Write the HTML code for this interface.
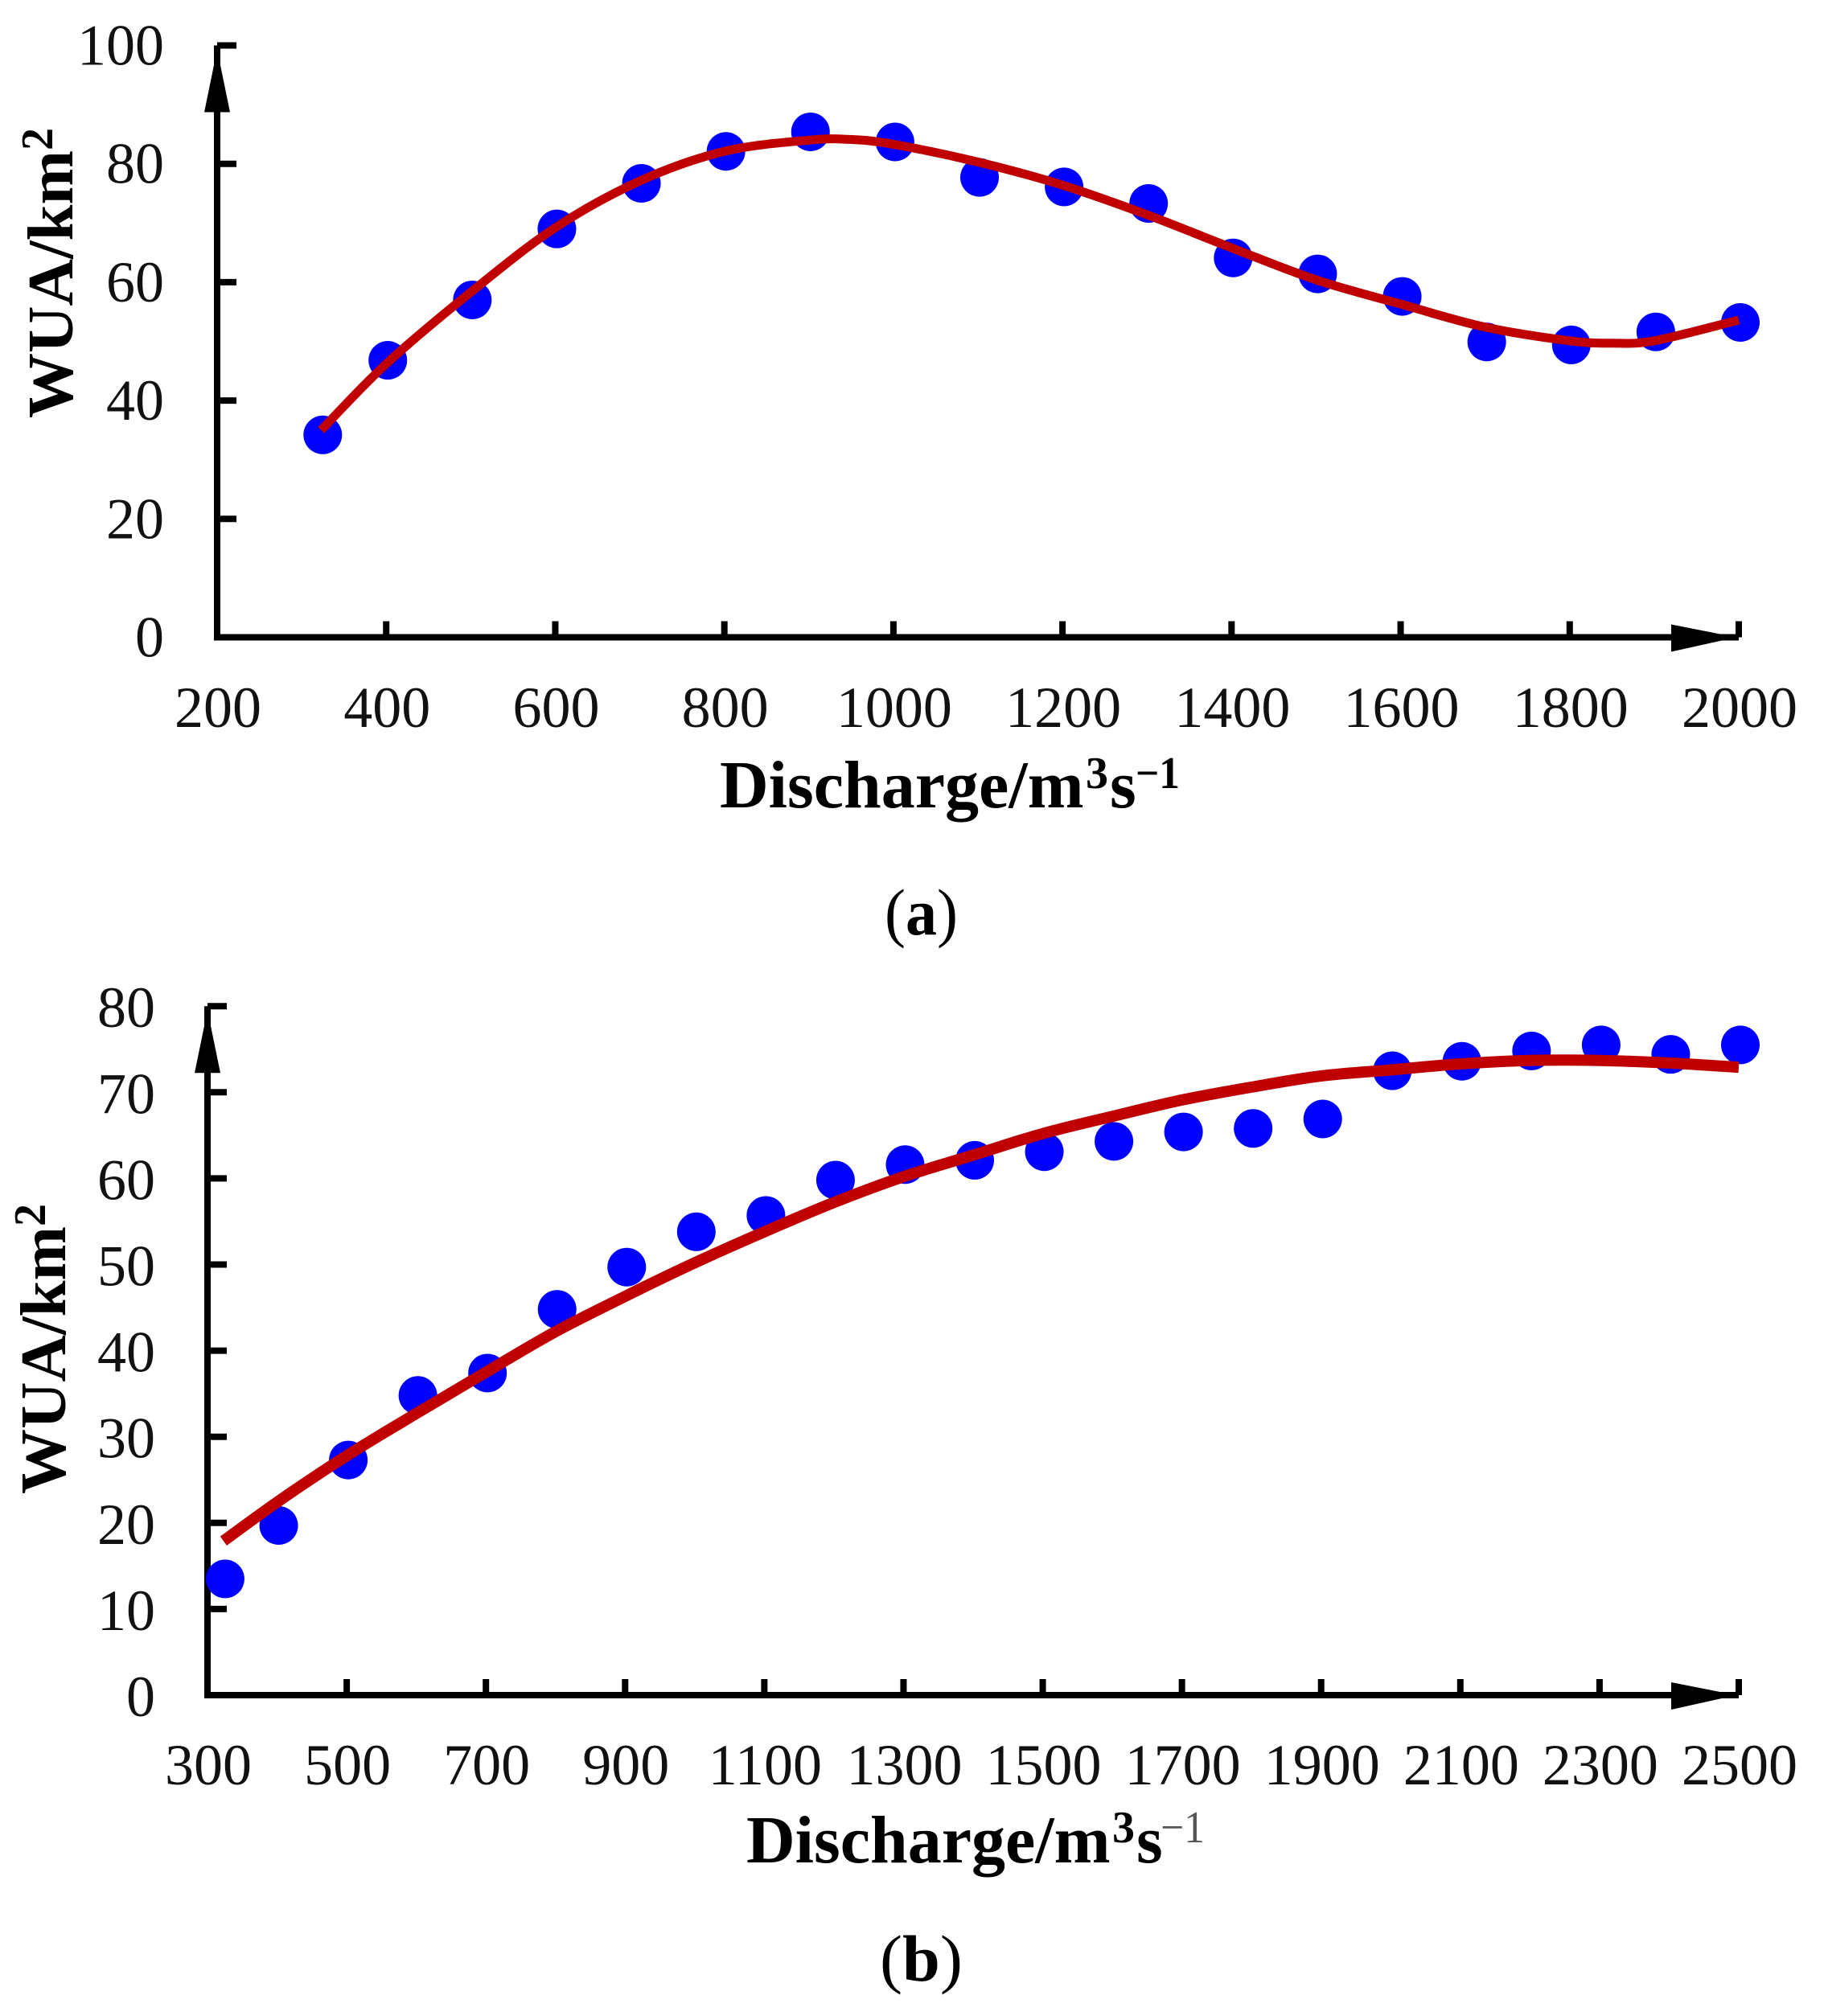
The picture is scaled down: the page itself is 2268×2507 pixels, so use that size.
<!DOCTYPE html>
<html lang="en">
<head>
<meta charset="utf-8">
<title>WUA versus discharge</title>
<style>
html,body{margin:0;padding:0;background:#fff;width:2268px;height:2507px;overflow:hidden}
svg{display:block}
text{font-family:"Liberation Serif",serif;fill:#000}
.tick{font-size:72px;fill:#111}
.title{font-size:84px;font-weight:bold}
.sup{font-size:56px;font-weight:bold}
.cap{font-size:82px}
</style>
</head>
<body>
<svg id="chart" xmlns="http://www.w3.org/2000/svg" width="2268" height="2507" viewBox="0 0 2268 2507">
  <rect x="0" y="0" width="2268" height="2507" fill="#ffffff"/>

  <g id="panel-a"></g>
  <g id="panel-b"></g>

  <text class="title" style="font-size:81px" transform="translate(90 520) rotate(-90)">WUA/km<tspan class="sup" dy="-25">2</tspan></text>
  <text class="title" x="895" y="1004">Discharge/m</text>
  <text class="sup" x="1350" y="980">3</text>
  <text class="title" x="1380" y="1004">s</text>
  <text class="sup" x="1412" y="980" textLength="55" lengthAdjust="spacingAndGlyphs">−1</text>
  <text class="cap" x="1100" y="1162" textLength="91" lengthAdjust="spacingAndGlyphs">(<tspan font-weight="bold">a</tspan>)</text>

  <text class="title" style="font-size:81px" transform="translate(81 1858) rotate(-90)">WUA/km<tspan class="sup" dy="-25">2</tspan></text>
  <text class="title" x="928" y="2316">Discharge/m</text>
  <text class="sup" x="1383" y="2291">3</text>
  <text class="title" x="1413" y="2316">s</text>
  <text class="sup" style="fill:#555;font-weight:normal" x="1443" y="2291" textLength="55" lengthAdjust="spacingAndGlyphs">−1</text>
  <text class="cap" x="1094" y="2463" textLength="103" lengthAdjust="spacingAndGlyphs">(<tspan font-weight="bold">b</tspan>)</text>
</svg>

<script>
// Panel (a) data
const aCategories = [323,400,500,600,700,800,900,1000,1100,1200,1300,1400,1500,1600,1700,1800,1900,2000];
const aObserved = [34.2,46.8,57.0,69.0,76.7,82.1,85.4,83.7,77.7,76.1,73.3,64.1,61.4,57.6,49.9,49.4,51.6,53.2];
const aFitX = [323,400,500,600,700,800,900,950,1000,1100,1200,1300,1400,1500,1600,1700,1800,1850,1900,2000];
const aFitY = [35.0,46.2,58.3,69.2,77.1,82.1,84.0,84.1,83.3,80.3,76.4,71.4,65.8,60.4,56.3,52.4,50.1,49.7,50.1,53.6];
const aXTicks = [200,400,600,800,1000,1200,1400,1600,1800,2000];
const aYTicks = [0,20,40,60,80,100];

// Panel (b) data
const bCategories = [323,400,500,600,700,800,900,1000,1100,1200,1300,1400,1500,1600,1700,1800,1900,2000,2100,2200,2300,2400,2500];
const bObserved = [13.5,19.7,27.3,34.8,37.4,44.8,49.7,53.8,55.7,59.8,61.6,62.1,63.1,64.3,65.4,65.8,66.9,72.5,73.6,74.8,75.5,74.4,75.5];
const bFitX = [323,400,500,600,700,800,900,1000,1100,1200,1300,1400,1500,1600,1700,1800,1900,2000,2100,2200,2300,2400,2500];
const bFitY = [17.9,22.4,27.8,32.7,37.5,42.2,46.3,50.2,53.8,57.2,60.2,62.7,65.2,67.2,69.1,70.6,71.9,72.6,73.3,73.7,73.7,73.4,72.9];
const bXTicks = [300,500,700,900,1100,1300,1500,1700,1900,2100,2300,2500];
const bYTicks = [0,10,20,30,40,50,60,70,80];

const NS = 'http://www.w3.org/2000/svg';

function make(parent, tag, attrs) {
  const el = document.createElementNS(NS, tag);
  for (const k in attrs) el.setAttribute(k, attrs[k]);
  parent.appendChild(el);
  return el;
}

function splinePath(px, py) {
  let d = 'M' + px[0].toFixed(1) + ' ' + py[0].toFixed(1);
  for (let i = 0; i < px.length - 1; i++) {
    const i0 = Math.max(i - 1, 0), i3 = Math.min(i + 2, px.length - 1);
    const c1x = px[i] + (px[i + 1] - px[i0]) / 6, c1y = py[i] + (py[i + 1] - py[i0]) / 6;
    const c2x = px[i + 1] - (px[i3] - px[i]) / 6, c2y = py[i + 1] - (py[i3] - py[i]) / 6;
    d += 'C' + [c1x, c1y, c2x, c2y, px[i + 1], py[i + 1]].map(v => v.toFixed(1)).join(' ');
  }
  return d;
}

function drawPanel(cfg) {
  const g = document.getElementById(cfg.id);
  const x = v => cfg.x0 + (v - cfg.xMin) * cfg.xScale;
  const y = v => cfg.y0 - (v - cfg.yMin) * cfg.yScale;
  const xEnd = x(cfg.xMax), yTop = y(cfg.yMax);

  cfg.yTicks.forEach(function (t) {
    const mark = make(g, 'line', {x1: cfg.x0, x2: cfg.x0 + 24, y1: y(t), y2: y(t), stroke: '#000', 'stroke-width': 8});
    
    
    const label = make(g, 'text', {x: cfg.yLabelX, y: y(t) + cfg.yLabelDy, 'text-anchor': 'end', class: 'tick'});
    label.textContent = t;
    
    
  });

  cfg.xTicks.forEach(function (t) {
    const mark = make(g, 'line', {x1: x(t), x2: x(t), y1: cfg.y0, y2: cfg.y0 - 20, stroke: '#000', 'stroke-width': 8});
    
    
    const label = make(g, 'text', {x: x(t) + 1, y: cfg.xLabelY, 'text-anchor': 'middle', class: 'tick'});
    label.textContent = t;
    
    
  });

  const yAxis = make(g, 'line', {x1: cfg.x0, x2: cfg.x0, y1: yTop, y2: cfg.y0 + 4, stroke: '#000', 'stroke-width': 8});
  
  

  const xAxis = make(g, 'line', {x1: cfg.x0, x2: xEnd, y1: cfg.y0, y2: cfg.y0, stroke: '#000', 'stroke-width': 8});
  
  

  const yArrow = make(g, 'polygon', {fill: '#000', points:
    cfg.x0 + ',' + (yTop + 5) + ' ' + (cfg.x0 - 16) + ',' + (yTop + 83) + ' ' + (cfg.x0 + 16) + ',' + (yTop + 83)});
  
  

  const xArrow = make(g, 'polygon', {fill: '#000', points:
    (xEnd - 3) + ',' + cfg.y0 + ' ' + (xEnd - 84) + ',' + (cfg.y0 - 16) + ' ' + (xEnd - 84) + ',' + (cfg.y0 + 18)});
  
  

  cfg.categories.forEach(function (c, i) {
    const dot = make(g, 'circle', {cx: x(c) + cfg.dotDx, cy: y(cfg.observed[i]), r: 24, fill: '#0000ff'});
    
    
  });

  const fit = make(g, 'path', {
    d: splinePath(cfg.fitX.map(x), cfg.fitY.map(y)),
    fill: 'none', stroke: '#c00000', 'stroke-width': cfg.lineWidth
  });
  
  
}

drawPanel({
  id: 'panel-a',
  x0: 270, xMin: 200, xMax: 2000, xScale: 1892 / 1800,
  y0: 792.5, yMin: 0, yMax: 100, yScale: 7.36,
  yLabelX: 204, yLabelDy: 24, xLabelY: 904, lineWidth: 11, dotDx: 2,
  categories: aCategories, observed: aObserved, fitX: aFitX, fitY: aFitY,
  xTicks: aXTicks, yTicks: aYTicks
});

drawPanel({
  id: 'panel-b',
  x0: 258, xMin: 300, xMax: 2500, xScale: 1904 / 2200,
  y0: 2108, yMin: 0, yMax: 80, yScale: 10.71,
  yLabelX: 193, yLabelDy: 26, xLabelY: 2219, lineWidth: 14, dotDx: 2,
  categories: bCategories, observed: bObserved, fitX: bFitX, fitY: bFitY,
  xTicks: bXTicks, yTicks: bYTicks
});
</script>
</body>
</html>
